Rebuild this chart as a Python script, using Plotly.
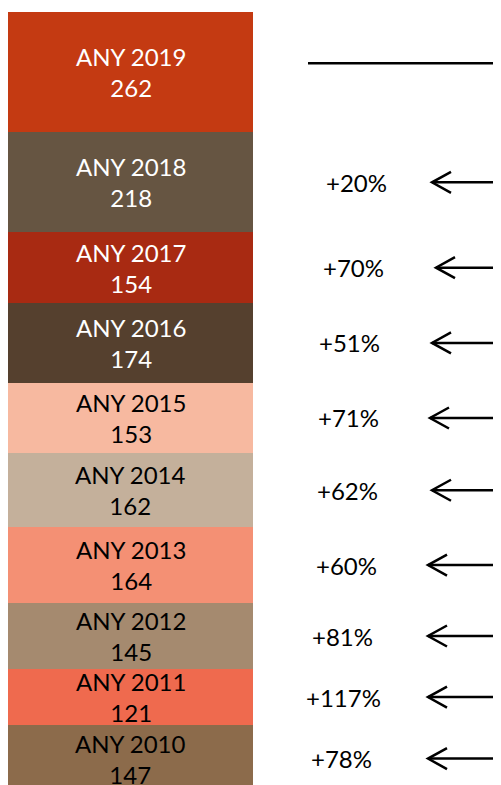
import plotly.graph_objects as go

years = ["ANY 2010", "ANY 2011", "ANY 2012", "ANY 2013", "ANY 2014",
         "ANY 2015", "ANY 2016", "ANY 2017", "ANY 2018", "ANY 2019"]
values = [147, 121, 145, 164, 162, 153, 174, 154, 218, 262]
growth = ["+78%", "+117%", "+81%", "+60%", "+62%", "+71%", "+51%", "+70%", "+20%", ""]
colors = ["#8C6B4B", "#EF6A4E", "#A58A6F", "#F49074", "#C4B09B",
          "#F7B9A0", "#55402E", "#A82A12", "#665542", "#C43A12"]
text_colors = ["black"] * 6 + ["white"] * 4

# style: horizontal pixel positions of the growth labels and arrow tips (figure px)
label_px = [333, 335, 334, 338, 339, 340, 341, 345, 348, 0]
tip_px = [420, 420, 420, 420, 424, 422, 424, 428, 424, 0]

# page body has an 8px margin, so the figure is drawn 8px in from the window edge
W, H = 501, 777
FONT = "Lato"

fig = go.Figure()
bottoms = []
acc = 0
for y, v, c in zip(years, values, colors):
    fig.add_trace(go.Bar(x=[0], y=[v], width=1, marker=dict(color=c, line=dict(width=0)),
                         name=y, hoverinfo="skip", showlegend=False))
    bottoms.append(acc)
    acc += v
total = acc

annotations = []
shapes = []
for i, (y, v) in enumerate(zip(years, values)):
    mid = bottoms[i] + v / 2
    annotations.append(dict(x=0, y=mid, xref="x", yref="y", text=f"{y}<br>{v}",
                            showarrow=False, font=dict(family=FONT, size=24, color=text_colors[i]),
                            xanchor="center", yanchor="middle"))
    if growth[i]:
        tip_x = tip_px[i] / W
        annotations.append(dict(x=label_px[i] / W, y=mid, xref="paper", yref="y", text=growth[i],
                                showarrow=False, font=dict(family=FONT, size=24, color="black"),
                                xanchor="center", yanchor="middle"))
        shapes.append(dict(type="line", xref="paper", yref="y", x0=tip_x, x1=1.02, y0=mid, y1=mid,
                           line=dict(color="black", width=2.5)))
        shapes.append(dict(type="path", xref="paper", yref="y", xsizemode="pixel", ysizemode="pixel",
                           xanchor=tip_x, yanchor=mid, path="M 19,10.5 L 0,0 L 19,-10.5",
                           line=dict(color="black", width=2.5)))
    else:
        shapes.append(dict(type="line", xref="paper", yref="y", ysizemode="pixel", yanchor=mid,
                           x0=300 / W, x1=1.02, y0=9, y1=9, line=dict(color="black", width=2.5)))

k = 0.459  # px per unit
top_val = total + 4 / k
bot_val = top_val - H / k

fig.update_layout(
    width=W, height=H, barmode="stack", bargap=0,
    margin=dict(l=0, r=0, t=0, b=0),
    paper_bgcolor="white", plot_bgcolor="white",
    xaxis=dict(range=[-0.5, 0.5], domain=[0, 245 / W], visible=False, fixedrange=True),
    yaxis=dict(range=[bot_val, top_val], visible=False, fixedrange=True),
    annotations=annotations, shapes=shapes,
)
fig.write_html("out.html", config={"displayModeBar": False})
